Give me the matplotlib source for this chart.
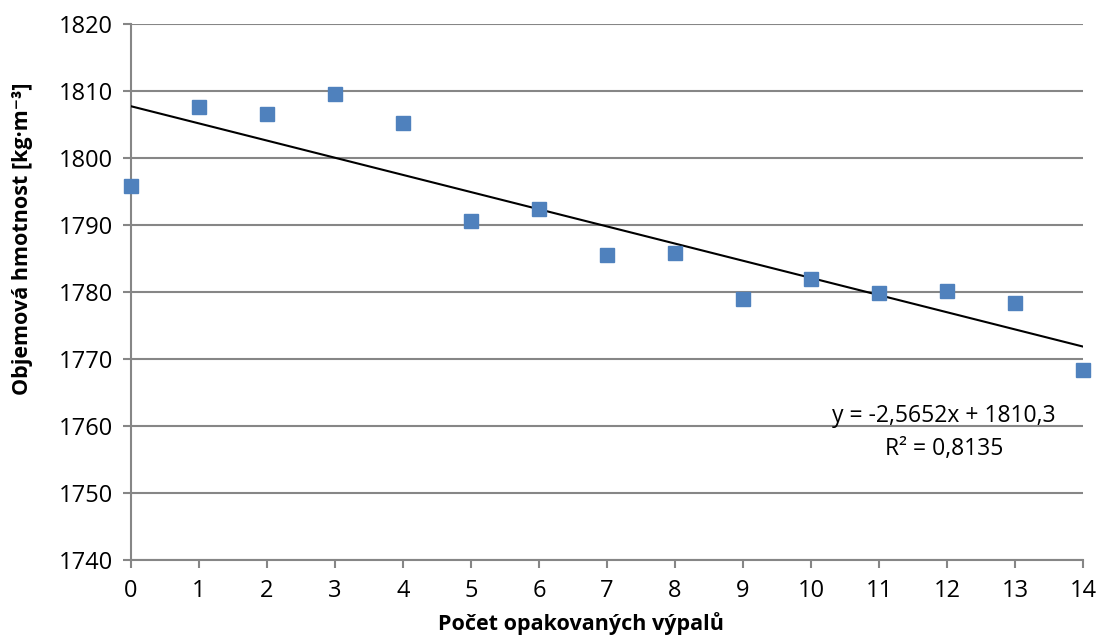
import matplotlib
matplotlib.use("Agg")
import matplotlib.pyplot as plt
import numpy as np

plt.rcParams['font.family'] = ['Open Sans', 'DejaVu Sans']

firings = [0, 1, 2, 3, 4, 5, 6, 7, 8, 9, 10, 11, 12, 13, 14]
density = [1795.8, 1807.6, 1806.6, 1809.6, 1805.2, 1790.6, 1792.4, 1785.5,
           1785.8, 1779.0, 1781.9, 1779.9, 1780.2, 1778.4, 1768.4]
y_ticks = [1740, 1750, 1760, 1770, 1780, 1790, 1800, 1810, 1820]
eq_text = "y = -2,5652x + 1810,3"
r2_text = "R² = 0,8135"
xlabel = "Počet opakovaných výpalů"
ylabel = "Objemová hmotnost [kg·m⁻³]"

grid_c = '#868686'
fig = plt.figure(figsize=(10.98, 6.38), dpi=100)
ax = fig.add_axes([0.1193, 0.1223, 0.867, 0.840])

slope, intercept = np.polyfit(firings, density, 1)
xs = np.array([firings[0], firings[-1]])
ax.plot(xs, slope * xs + intercept, color='black', lw=1.5, zorder=3)
ax.plot(firings, density, linestyle='none', marker='s', markersize=10.5,
        color='#4F81BD', markeredgecolor='#4F81BD', zorder=4, clip_on=False)

ax.set_xlim(0, 14)
ax.set_ylim(1740, 1820)
ax.set_xticks(firings)
ax.set_yticks(y_ticks)
ax.yaxis.grid(True, color=grid_c, lw=1.5)
ax.set_axisbelow(True)
for s in ['top', 'right']:
    ax.spines[s].set_visible(False)
for s in ['left', 'bottom']:
    ax.spines[s].set_color(grid_c)
    ax.spines[s].set_linewidth(1.5)
ax.tick_params(axis='both', colors=grid_c, width=1.5, length=6, labelsize=17,
               labelcolor='black')
ax.tick_params(axis='x', pad=8)
ax.tick_params(axis='y', pad=7)

ax.set_xlabel(xlabel, fontsize=15.5, fontweight='bold')
ax.set_ylabel(ylabel, fontsize=15.5, fontweight='bold')
ax.xaxis.set_label_coords(0.473, -0.098)
ax.yaxis.set_label_coords(-0.103, 0.599)

ax.text(11.96, 1761.5, eq_text, ha='center', va='center', fontsize=16.5)
ax.text(11.96, 1756.6, r2_text, ha='center', va='center', fontsize=16.5)

fig.savefig('out.png', dpi=100)
